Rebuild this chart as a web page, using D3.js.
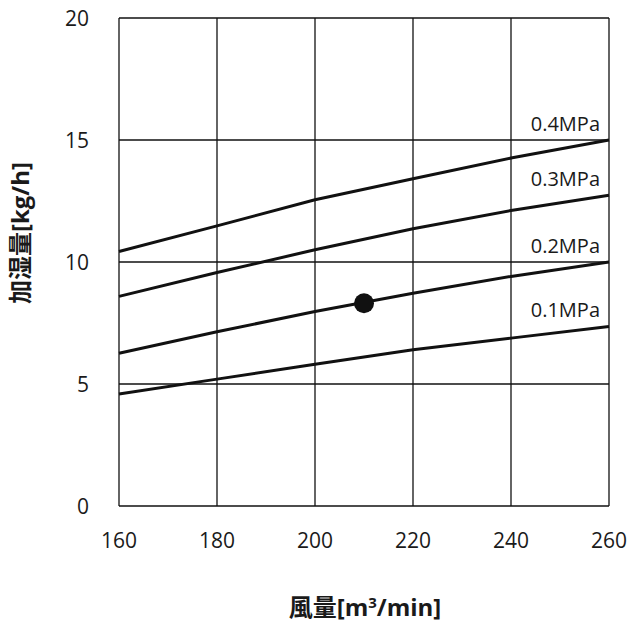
<!DOCTYPE html>
<html><head><meta charset="utf-8">
<script src="https://cdn.jsdelivr.net/npm/d3@7"></script>
<style>body{margin:0;background:#fff}</style>
</head><body>
<svg id="c" width="633" height="624"></svg>
<script>
const xValues = [160, 180, 200, 220, 240, 260];
const s01 = [4.59, 5.20, 5.81, 6.40, 6.88, 7.36];
const s02 = [6.26, 7.14, 7.97, 8.72, 9.41, 10.0];
const s03 = [8.59, 9.57, 10.50, 11.36, 12.11, 12.74];
const s04 = [10.43, 11.48, 12.55, 13.41, 14.26, 15.0];
const seriesNames = ["0.1MPa", "0.2MPa", "0.3MPa", "0.4MPa"];
const markerPoint = [210, 8.31];
const xTicks = [160, 180, 200, 220, 240, 260];
const yTicks = [0, 5, 10, 15, 20];

const svg = d3.select("#c");
const L = 119, R = 609, T = 18, B = 506;
const x = d3.scaleLinear().domain([160, 260]).range([L, R]);
const y = d3.scaleLinear().domain([0, 20]).range([B, T]);
const font = "'Open Sans', 'Noto Sans CJK JP', sans-serif";
const cjk = "'Noto Sans CJK JP', 'Open Sans', sans-serif";

// grid
svg.append("g").selectAll("line").data(xTicks).join("line")
  .attr("x1", d => x(d)).attr("x2", d => x(d)).attr("y1", T).attr("y2", B)
  .attr("stroke", "#111").attr("stroke-width", 1.3);
svg.append("g").selectAll("line").data(yTicks).join("line")
  .attr("x1", L).attr("x2", R).attr("y1", d => y(d)).attr("y2", d => y(d))
  .attr("stroke", "#111").attr("stroke-width", 1.3);

// tick labels
svg.append("g").selectAll("text").data(yTicks).join("text")
  .attr("x", 89).attr("y", d => y(d) + 7.5)
  .attr("text-anchor", "end").attr("font-family", font).attr("font-size", 21).attr("fill", "#1a1a1a")
  .text(d => d);
svg.append("g").selectAll("text").data(xTicks).join("text")
  .attr("x", d => x(d)).attr("y", 548)
  .attr("text-anchor", "middle").attr("font-family", font).attr("font-size", 21).attr("fill", "#1a1a1a")
  .text(d => d);

// lines
const series = [s01, s02, s03, s04];
const line = d3.line().x((d, i) => x(xValues[i])).y(d => y(d));
svg.append("g").selectAll("path").data(series).join("path")
  .attr("d", d => line(d)).attr("fill", "none").attr("stroke", "#111").attr("stroke-width", 3);

// labels
svg.append("g").selectAll("text").data(series).join("text")
  .attr("x", 600).attr("y", d => y(d[d.length - 1]) - 9)
  .attr("text-anchor", "end").attr("font-family", font).attr("font-size", 20).attr("fill", "#1a1a1a")
  .text((d, i) => seriesNames[i]);

// marker
svg.append("circle").attr("cx", x(markerPoint[0])).attr("cy", y(markerPoint[1])).attr("r", 10).attr("fill", "#111");

// axis titles
svg.append("text").attr("x", 365).attr("y", 608).attr("dy", "0.35em")
  .attr("text-anchor", "middle").attr("font-family", font).attr("font-size", 24).attr("font-weight", "bold").attr("fill", "#1a1a1a")
  .html("<tspan font-family=\"" + cjk + "\">風量</tspan>[m<tspan dy='-8' font-size='15'>3</tspan><tspan dy='8'>/min]</tspan>");
svg.append("text").attr("transform", "translate(21,233) rotate(-90)").attr("dy", "0.35em")
  .attr("text-anchor", "middle").attr("font-family", font).attr("font-size", 24).attr("font-weight", "bold").attr("fill", "#1a1a1a")
  .html("<tspan font-family=\"" + cjk + "\">加湿量</tspan>[kg/h]");
</script>
</body></html>
